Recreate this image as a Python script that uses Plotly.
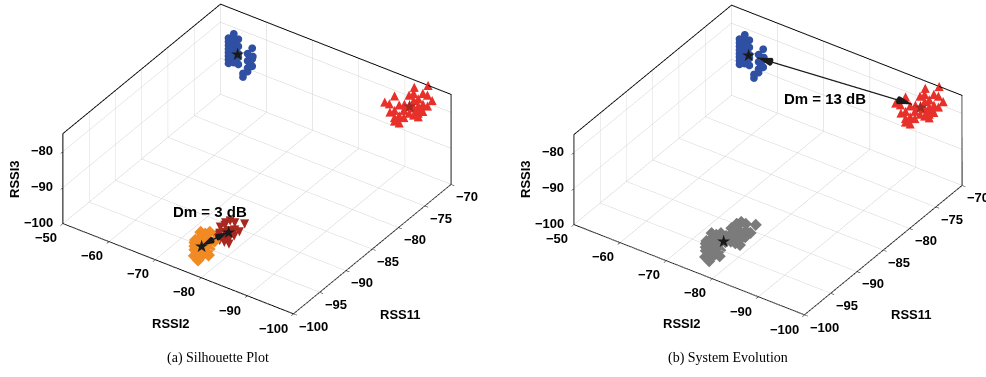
import numpy as np
import plotly.graph_objects as go

W, H = 986, 377

# RSSI samples (dBm) of each cluster: RSSI2, RSS11, RSSI3
blue_rssi2 = [-54, -54, -54, -54, -54, -54, -54, -54, -54, -54, -54, -54, -54, -54, -54, -54,
              -54, -55, -55, -55, -55, -55, -57, -57, -57, -57, -58, -58, -58, -56, -56, -57]
blue_rss11 = [-72, -72, -72, -72, -72, -72, -72, -72, -71, -71, -71, -71, -71, -71, -71, -71,
              -71, -71, -71, -71, -71, -71, -71, -71, -71, -71, -71, -71, -71, -71, -71, -70]
blue_rssi3 = [-80, -81, -82, -83, -84, -85, -86, -87, -80, -81, -82, -83, -84, -85, -86, -87,
              -88, -81, -83, -85, -86, -88, -84, -86, -88, -89, -82, -85, -87, -90, -91, -86]

red_rssi2 = [-95, -92, -90, -89, -90, -89, -90, -90, -91, -92, -92, -93, -94, -95, -96, -94, -93,
             -94, -92, -91, -95, -92, -91, -95, -96, -93, -92, -94, -97, -90, -91, -93, -94]
red_rss11 = [-70, -70, -72, -73, -73, -72, -72, -72, -72, -72, -71, -71, -71, -71, -71, -71, -71,
             -71, -72, -72, -71, -71, -71, -71, -71, -71, -71, -71, -71, -72, -72, -71, -71]
red_rssi3 = [-75, -77, -78, -79, -79, -83, -82, -85, -83, -81, -81, -79, -78, -79, -79, -81, -83,
             -82, -83, -85, -76, -78, -81, -81, -76, -77, -83, -80, -77, -84, -80, -81, -83]

orange_rssi2 = [-75, -75, -75, -74, -74, -76, -76, -75, -75, -74, -76, -76, -75, -76, -76, -73,
                -74, -75, -76, -73, -77, -75, -74, -76, -75, -74, -77]
orange_rss11 = [-96, -96, -96, -96, -96, -96, -96, -95, -95, -95, -95, -95, -97, -97, -97, -95,
                -94, -94, -94, -94, -96, -96, -96, -96, -95, -95, -98]
orange_rssi3 = [-100, -99, -98, -100, -98, -100, -98, -99, -97, -98, -100, -98, -100, -100, -99, -99,
                -98, -97, -99, -98, -100, -97, -99, -99, -98, -100, -99]

darkred_rssi2 = [-77, -77, -76, -76, -78, -77, -77, -76, -76, -75, -75, -77, -76, -78, -78, -77,
                 -78, -77, -75]
darkred_rss11 = [-92, -92, -92, -92, -92, -93, -93, -93, -93, -93, -92, -91, -91, -90, -91, -91,
                 -93, -92, -91]
darkred_rssi3 = [-98, -100, -99, -97, -99, -99, -100, -100, -98, -99, -98, -97, -97, -98, -99, -99,
                 -100, -99, -98]

# after the evolution step the two lower clusters are merged into one
gray_rssi2 = orange_rssi2 + darkred_rssi2
gray_rss11 = orange_rss11 + darkred_rss11
gray_rssi3 = orange_rssi3 + darkred_rssi3

# axis limits and tick values
rssi2_range, rss11_range, rssi3_range = [-100, -50], [-100, -70], [-100, -75]
rssi2_ticks = [-100, -90, -80, -70, -60, -50]
rss11_ticks = [-100, -95, -90, -85, -80, -75, -70]
rssi3_ticks = [-100, -90, -80]

BLUE, RED, ORANGE, DARKRED, GRAY = "#2f50a2", "#e8302a", "#f28a24", "#a8271f", "#7b7b7b"

# viewing direction (world units, box scaled by the aspect ratio)
VIEW = np.array([0.468, -0.678, 0.567])
BOX = np.array([1.0, 0.99, 0.39])   # relative box proportions
ZOOM = 1.653                        # orthographic zoom is carried by the aspect ratio
SPAN = np.array([50.0, 30.0, 25.0])  # dB covered by each axis
# the same direction expressed in dB (RSSI2 axis is drawn reversed)
VIEW_DB = VIEW * SPAN / BOX * np.array([-1, 1, 1])

fig = go.Figure()


def centroid(x, y, z):
    return np.array([np.mean(x), np.mean(y), np.mean(z)])


def add_dots(x, y, z, scene, color, symbol, size):
    fig.add_trace(go.Scatter3d(x=x, y=y, z=z, mode="markers", scene=scene,
                               marker=dict(color=color, symbol=symbol, size=size,
                                           line=dict(width=0)),
                               hoverinfo="skip"))


def add_glyphs(x, y, z, scene, color, glyph, size):
    fig.add_trace(go.Scatter3d(x=x, y=y, z=z, mode="text", scene=scene,
                               text=[glyph] * len(x), textposition="middle center",
                               textfont=dict(family="DejaVu Sans", size=size, color=color),
                               hoverinfo="skip"))


def add_double_arrow(c1, c2, scene, head, trim, lift):
    # nudged toward the viewer so the arrow is drawn over the point clouds
    off = lift * VIEW_DB
    d = c2 - c1
    p1 = c1 + trim * d + off
    p2 = c2 - trim * d + off
    fig.add_trace(go.Scatter3d(x=[p1[0], p2[0]], y=[p1[1], p2[1]], z=[p1[2], p2[2]],
                               mode="lines", scene=scene, line=dict(color="#1a1a1a", width=2.5),
                               hoverinfo="skip"))
    u = d / np.linalg.norm(d)
    for tip, vec in ((p2, u), (p1, -u)):
        fig.add_trace(go.Cone(x=[tip[0]], y=[tip[1]], z=[tip[2]],
                              u=[vec[0]], v=[vec[1]], w=[vec[2]],
                              anchor="tip", sizemode="absolute", sizeref=head,
                              colorscale=[[0, "#1a1a1a"], [1, "#1a1a1a"]], showscale=False,
                              lighting=dict(ambient=1, diffuse=0, specular=0, fresnel=0,
                                            roughness=1),
                              scene=scene, hoverinfo="skip"))


def star(c, color="#1a1a1a"):
    return dict(x=c[0], y=c[1], z=c[2], text="★", showarrow=False,
                xanchor="center", yanchor="middle",
                font=dict(family="DejaVu Sans", size=17, color=color))


tick_font = dict(family="Liberation Sans", size=13, color="black", weight="bold")


def tick_label(x, y, z, v, anchor, dx, dy):
    return dict(x=x, y=y, z=z, text="\u2212%d" % abs(v), showarrow=False,
                xanchor=anchor, yanchor="middle", xshift=dx, yshift=dy, font=tick_font)


def tick_labels():
    # tick labels set beside their ticks: RSSI2 on the front-left edge,
    # RSS11 on the front-right edge, RSSI3 on the left vertical edge
    x0, y0, z0 = rssi2_range[0], rss11_range[0], rssi3_range[0]
    out = [tick_label(v, y0, z0, v, "right", -4, -14) for v in rssi2_ticks]
    out += [tick_label(x0, v, z0, v, "left", 3, -12) for v in rss11_ticks]
    out += [tick_label(rssi2_range[1], y0, v, v, "right", -8, 1) for v in rssi3_ticks]
    return out


c_blue = centroid(blue_rssi2, blue_rss11, blue_rssi3)
c_red = centroid(red_rssi2, red_rss11, red_rssi3)
c_orange = centroid(orange_rssi2, orange_rss11, orange_rssi3)
c_darkred = centroid(darkred_rssi2, darkred_rss11, darkred_rssi3)
c_gray = centroid(gray_rssi2, gray_rss11, gray_rssi3)

# (a) silhouette plot: four clusters
add_dots(blue_rssi2, blue_rss11, blue_rssi3, "scene", BLUE, "circle", 4.5)
add_glyphs(red_rssi2, red_rss11, red_rssi3, "scene", RED, "▲", 12)
add_dots(orange_rssi2, orange_rss11, orange_rssi3, "scene", ORANGE, "diamond", 4.2)
add_glyphs(darkred_rssi2, darkred_rss11, darkred_rssi3, "scene", DARKRED, "▼", 12)
add_double_arrow(c_orange, c_darkred, "scene", 1.6, 0.0, 0.15)

# (b) system evolution: merged cluster
add_dots(blue_rssi2, blue_rss11, blue_rssi3, "scene2", BLUE, "circle", 4.5)
add_glyphs(red_rssi2, red_rss11, red_rssi3, "scene2", RED, "▲", 12)
add_dots(gray_rssi2, gray_rss11, gray_rssi3, "scene2", GRAY, "diamond", 4.0)
add_double_arrow(c_blue, c_red, "scene2", 3.0, 0.05, 0.12)

axis_common = dict(showbackground=False, showgrid=True, gridcolor="#d0d0d0", gridwidth=1,
                   showline=True, linecolor="black", linewidth=2, mirror=True,
                   ticks="outside", ticklen=4, tickcolor="black", showticklabels=False,
                   zeroline=False, showspikes=False, title=dict(text=""))


def make_scene(domain_x, center, notes):
    eye = {k: center[k] + 2.0 * v for k, v in zip("xyz", VIEW)}
    return dict(
        domain=dict(x=domain_x, y=[0.10, 1.0]),
        xaxis=dict(axis_common, range=rssi2_range[::-1], tickvals=rssi2_ticks),
        yaxis=dict(axis_common, range=rss11_range, tickvals=rss11_ticks),
        zaxis=dict(axis_common, range=rssi3_range, tickvals=rssi3_ticks),
        aspectmode="manual",
        aspectratio=dict(x=BOX[0] * ZOOM, y=BOX[1] * ZOOM, z=BOX[2] * ZOOM),
        camera=dict(projection=dict(type="orthographic"), eye=eye, center=center,
                    up=dict(x=0, y=0, z=1)),
        bgcolor="white",
        annotations=notes + tick_labels(),
    )


label_font = dict(family="Liberation Sans", size=13, color="black", weight="bold")


def px(x, y):
    return x / W, 1 - y / H


annotations = []
for dx, txt_cap, cap_x in ((0, "(a) Silhouette Plot", 218), (511, "(b) System Evolution", 728)):
    for text, (x, y), ang in (("RSSI3", (14 + dx, 179), -90), ("RSSI2", (171 + dx, 323), 0),
                              ("RSS11", (400 + dx, 314), 0)):
        ax, ay = px(x, y)
        annotations.append(dict(text=text, x=ax, y=ay, xref="paper", yref="paper",
                                showarrow=False, textangle=ang, font=label_font,
                                xanchor="center", yanchor="middle"))
    ax, ay = px(cap_x, 358)
    annotations.append(dict(text=txt_cap, x=ax, y=ay, xref="paper", yref="paper",
                            showarrow=False, xanchor="center", yanchor="middle",
                            font=dict(family="Liberation Serif", size=14, color="black")))

for text, (x, y) in (("Dm = 3 dB", (210, 211)), ("Dm = 13 dB", (825, 99))):
    ax, ay = px(x, y)
    annotations.append(dict(text=text, x=ax, y=ay, xref="paper", yref="paper",
                            showarrow=False, xanchor="center", yanchor="middle",
                            font=dict(family="Liberation Sans", size=15, color="black",
                                      weight="bold")))

fig.update_layout(
    width=W, height=H, margin=dict(l=0, r=0, t=0, b=0),
    paper_bgcolor="white", showlegend=False,
    scene=make_scene([0.0, 0.5], dict(x=-0.0310, y=-0.0641, z=-0.0510),
                     [star(c_blue), star(c_red, "#a32a22"), star(c_orange), star(c_darkred)]),
    scene2=make_scene([0.5, 1.0], dict(x=-0.1204, y=-0.1216, z=-0.0462),
                      [star(c_blue), star(c_red, "#a32a22"), star(c_gray)]),
    annotations=annotations,
)

fig.write_html("out.html")
